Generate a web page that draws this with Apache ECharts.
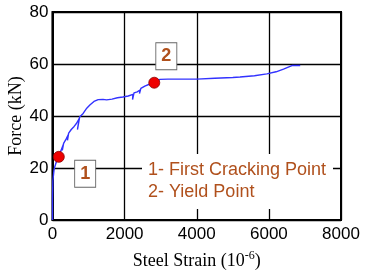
<!DOCTYPE html>
<html><head><meta charset="utf-8">
<script src="https://cdn.jsdelivr.net/npm/echarts@6/dist/echarts.min.js"></script>
<style>html,body{margin:0;padding:0;background:#fff}#c{width:367px;height:274px}</style>
</head><body><div id="c"></div>
<script>
// Force vs steel strain curve (strain in 1e-6, force in kN)
var strain = [0, 0, 10, 40, 64, 110, 175, 230, 295, 300, 272, 308, 380, 433, 440, 415, 448, 520, 600, 667, 740, 744, 692, 752, 850, 950, 1036, 1150, 1267, 1400, 1500, 1650, 1800, 1950, 2100, 2230, 2236, 2220, 2260, 2350, 2425, 2430, 2412, 2450, 2560, 2700, 2822, 2980, 3200, 3600, 4000, 4500, 5000, 5200, 5600, 5944, 6200, 6406, 6639, 6869];
var force  = [0, 8, 15, 19, 20.5, 22.5, 24.3, 26.5, 28.8, 29.0, 26.8, 29.5, 31.2, 32.7, 33.0, 30.6, 33.4, 34.8, 36.0, 37.2, 39.0, 39.3, 34.8, 39.6, 41.0, 43.0, 44.2, 45.6, 46.3, 46.4, 46.2, 46.5, 47.0, 47.3, 47.7, 48.3, 48.6, 46.3, 48.9, 49.3, 50.0, 50.3, 48.6, 50.6, 51.5, 52.3, 52.8, 54.1, 54.2, 54.2, 54.2, 54.5, 54.8, 55.0, 55.5, 56.2, 57.0, 58.0, 59.4, 59.4];
var markStrain = [175, 2822];
var markForce  = [24.3, 52.8];
var boxLabels  = ['1', '2'];
var boxStrain  = [906, 3156];
var boxForce   = [17.8, 63.0];
var legendLines = ['1- First Cracking Point', '2- Yield Point'];
var xTicks = [0, 2000, 4000, 6000, 8000];
var yTicks = [0, 20, 40, 60, 80];

var lineData = strain.map(function (s, i) { return [s, force[i]]; });
var markData = markStrain.map(function (s, i) { return [s, markForce[i]]; });
var boxData = boxStrain.map(function (s, i) { return { name: boxLabels[i], value: [s, boxForce[i]] }; });

var serif = '"Liberation Serif","Times New Roman",serif';
var sans = '"Liberation Sans",Arial,sans-serif';
var brown = '#b0501c';

var chart = echarts.init(document.getElementById('c'), null, { renderer: 'canvas' });
chart.setOption({
  animation: false,
  backgroundColor: '#fff',
  grid: { left: 52.5, right: 26, top: 12, bottom: 54, show: true, borderColor: '#000', borderWidth: 2,
          containLabel: false, outerBoundsMode: 'none' },
  xAxis: {
    type: 'value', min: xTicks[0], max: xTicks[xTicks.length - 1], interval: 2000,
    name: 'Steel Strain (10{sup|-6})', nameLocation: 'middle', nameGap: 30, nameMoveOverlap: false,
    nameTextStyle: { fontFamily: serif, fontSize: 18, color: '#000',
      rich: { sup: { fontFamily: serif, fontSize: 12, color: '#000', verticalAlign: 'top', padding: [0, 0, 10, 0] } } },
    axisLine: { show: true, lineStyle: { color: '#000', width: 2 } },
    axisTick: { show: false },
    axisLabel: { fontFamily: sans, fontSize: 17, color: '#000', margin: 6, formatter: function (v) { return String(v); } },
    splitLine: { show: true, lineStyle: { color: '#000', width: 1.3 } }
  },
  yAxis: {
    type: 'value', min: yTicks[0], max: yTicks[yTicks.length - 1], interval: 20,
    name: 'Force (kN)', nameLocation: 'middle', nameGap: 27, nameMoveOverlap: false,
    nameTextStyle: { fontFamily: serif, fontSize: 18, color: '#000' },
    axisLine: { show: true, lineStyle: { color: '#000', width: 2 } },
    axisTick: { show: false },
    axisLabel: { fontFamily: sans, fontSize: 17, color: '#000', margin: 4, formatter: function (v) { return String(v); } },
    splitLine: { show: true, lineStyle: { color: '#000', width: 1.3 } }
  },
  graphic: [{
    type: 'group', z: 50,
    children: [
      { type: 'rect', z: 50, shape: { x: 142, y: 154, width: 191, height: 55 }, style: { fill: '#fff' } },
      { type: 'text', z: 51, x: 148, y: 161, style: { text: legendLines[0], font: '18px ' + sans, fill: brown } },
      { type: 'text', z: 51, x: 148, y: 183, style: { text: legendLines[1], font: '18px ' + sans, fill: brown } }
    ]
  }],
  series: [
    { type: 'line', data: lineData, showSymbol: false, symbol: 'none', z: 3,
      lineStyle: { color: '#3232ff', width: 1.4 } },
    { type: 'scatter', data: markData, symbol: 'circle', symbolSize: 11, z: 5,
      itemStyle: { color: '#ee0000', opacity: 1, borderColor: '#8a0000', borderWidth: 0.8 } },
    { type: 'scatter', data: boxData, symbol: 'rect', symbolSize: [21, 27], z: 4,
      itemStyle: { color: '#fff', opacity: 1, borderColor: '#666', borderWidth: 1 },
      label: { show: true, position: 'inside', formatter: '{b}', fontFamily: sans, fontSize: 18, fontWeight: 'bold', color: brown } }
  ]
});
</script>
</body></html>
